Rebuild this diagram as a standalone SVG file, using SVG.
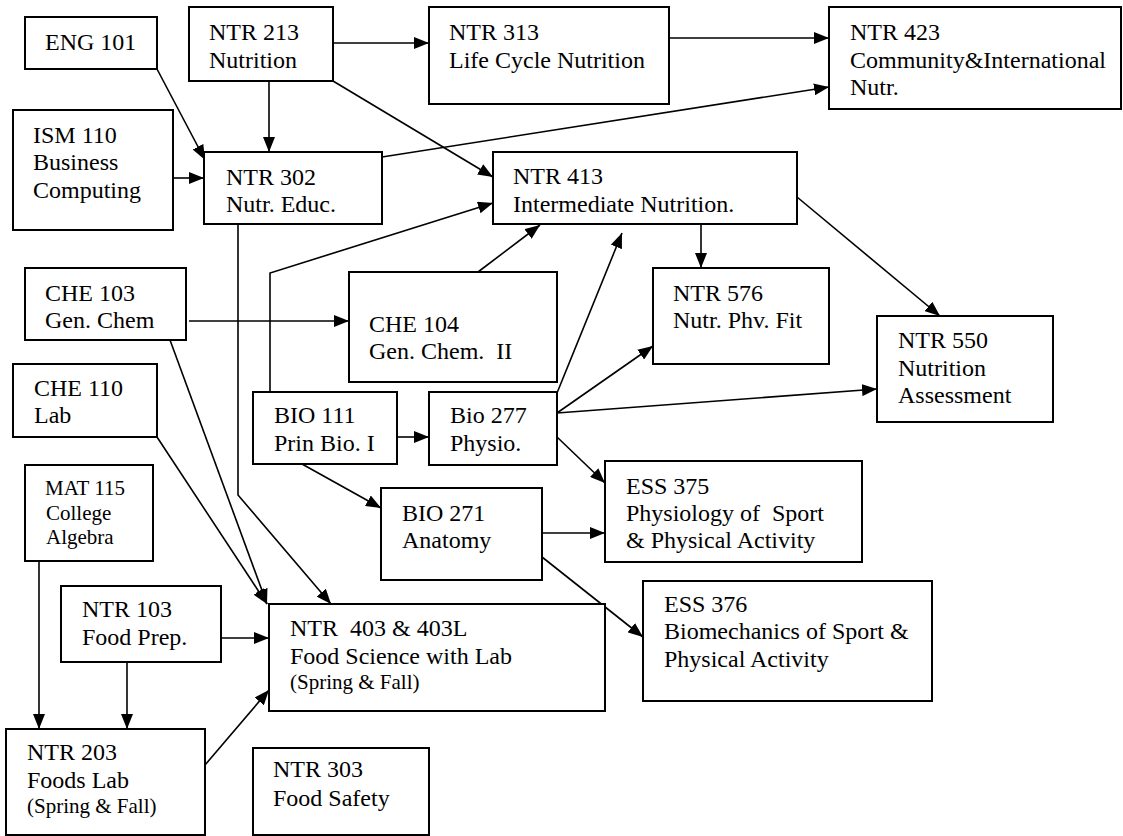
<svg xmlns="http://www.w3.org/2000/svg" width="1123" height="836" viewBox="0 0 1123 836">
<defs>
<marker id="ah" markerUnits="userSpaceOnUse" markerWidth="15" markerHeight="12" viewBox="0 0 15 12" refX="15" refY="6" orient="auto">
<path d="M0,0 L15,6 L0,12 z" fill="#000"/>
</marker>
<style>
.box{fill:#fff;stroke:#000;stroke-width:2}
.t{font-family:"Liberation Serif","Times New Roman",serif;font-size:24px;fill:#000}
.s{font-size:21px}
.c line,.c polyline{stroke:#000;stroke-width:1.6;fill:none;marker-end:url(#ah)}
</style>
</defs>
<rect width="1123" height="836" fill="#fff"/>

<g class="c" id="connectors">
<line x1="157" y1="69" x2="205" y2="160"/>
<line x1="269" y1="81" x2="269" y2="152"/>
<line x1="173" y1="178" x2="204" y2="178"/>
<line x1="333" y1="43" x2="429" y2="43"/>
<line x1="333" y1="81" x2="493" y2="177"/>
<line x1="669" y1="38" x2="829" y2="38"/>
<line x1="382" y1="157" x2="829" y2="87"/>
<polyline points="270,393 270,273 493,203"/>
<line x1="478" y1="272" x2="540" y2="225"/>
<line x1="557" y1="393" x2="622" y2="233"/>
<line x1="701" y1="221" x2="701" y2="268"/>
<line x1="797" y1="197" x2="940" y2="316"/>
<line x1="189" y1="321" x2="349" y2="321"/>
<line x1="557" y1="413" x2="653" y2="346"/>
<line x1="557" y1="413" x2="877" y2="389"/>
<line x1="557" y1="437" x2="605" y2="483"/>
<line x1="397" y1="437" x2="429" y2="437"/>
<line x1="302" y1="464" x2="381" y2="508"/>
<line x1="542" y1="533" x2="605" y2="533"/>
<line x1="542" y1="557" x2="643" y2="637"/>
<line x1="170" y1="340" x2="267" y2="604"/>
<line x1="157" y1="437" x2="267" y2="604"/>
<polyline points="238,224 238,495 331,604"/>
<line x1="221" y1="638" x2="269" y2="638"/>
<line x1="127" y1="662" x2="127" y2="729"/>
<line x1="39" y1="561" x2="39" y2="729"/>
<line x1="205" y1="765" x2="269" y2="690"/>
</g>

<g id="eng101"><rect class="box" x="25" y="17" width="132" height="52"/><text class="t" x="45" y="50">ENG 101</text></g>
<g id="ntr213"><rect class="box" x="189" y="7" width="144" height="74"/><text class="t" x="209" y="40">NTR 213</text><text class="t" x="209" y="68">Nutrition</text></g>
<g id="ntr313"><rect class="box" x="429" y="7" width="240" height="97"/><text class="t" x="449" y="40">NTR 313</text><text class="t" x="449" y="68">Life Cycle Nutrition</text></g>
<g id="ntr423"><rect class="box" x="829" y="7" width="292" height="102"/><text class="t" x="850" y="40">NTR 423</text><text class="t" x="850" y="68">Community&amp;International</text><text class="t" x="850" y="95">Nutr.</text></g>
<g id="ism110"><rect class="box" x="13" y="110" width="160" height="120"/><text class="t" x="33" y="143">ISM 110</text><text class="t" x="33" y="170">Business</text><text class="t" x="33" y="198">Computing</text></g>
<g id="ntr302"><rect class="box" x="204" y="152" width="178" height="72"/><text class="t" x="226" y="185">NTR 302</text><text class="t" x="226" y="212">Nutr. Educ.</text></g>
<g id="ntr413"><rect class="box" x="493" y="152" width="304" height="72"/><text class="t" x="513" y="184">NTR 413</text><text class="t" x="513" y="212">Intermediate Nutrition.</text></g>
<g id="che103"><rect class="box" x="25" y="268" width="161" height="72"/><text class="t" x="45" y="301">CHE 103</text><text class="t" x="45" y="328">Gen. Chem</text></g>
<g id="che104"><rect class="box" x="349" y="272" width="208" height="110"/><text class="t" x="369" y="332">CHE 104</text><text class="t" x="369" y="359">Gen. Chem.&#160; II</text></g>
<g id="ntr576"><rect class="box" x="653" y="268" width="176" height="96"/><text class="t" x="673" y="301">NTR 576</text><text class="t" x="673" y="328">Nutr. Phv. Fit</text></g>
<g id="ntr550"><rect class="box" x="877" y="316" width="176" height="106"/><text class="t" x="898" y="348">NTR 550</text><text class="t" x="898" y="376">Nutrition</text><text class="t" x="898" y="403">Assessment</text></g>
<g id="che110"><rect class="box" x="13" y="364" width="144" height="73"/><text class="t" x="34" y="396">CHE 110</text><text class="t" x="34" y="423">Lab</text></g>
<g id="bio111"><rect class="box" x="253" y="392" width="144" height="72"/><text class="t" x="274" y="423">BIO 111</text><text class="t" x="274" y="451">Prin Bio. I</text></g>
<g id="bio277"><rect class="box" x="429" y="392" width="128" height="73"/><text class="t" x="450" y="423">Bio 277</text><text class="t" x="450" y="451">Physio.</text></g>
<g id="mat115"><rect class="box" x="25" y="465" width="128" height="96"/><text class="t s" x="45" y="495">MAT 115</text><text class="t s" x="46" y="520">College</text><text class="t s" x="46" y="544">Algebra</text></g>
<g id="bio271"><rect class="box" x="381" y="488" width="161" height="92"/><text class="t" x="402" y="521">BIO 271</text><text class="t" x="402" y="548">Anatomy</text></g>
<g id="ess375"><rect class="box" x="605" y="461" width="257" height="101"/><text class="t" x="626" y="494">ESS 375</text><text class="t" x="626" y="521" xml:space="preserve">Physiology of  Sport</text><text class="t" x="626" y="548">&amp; Physical Activity</text></g>
<g id="ess376"><rect class="box" x="643" y="581" width="289" height="120"/><text class="t" x="664" y="612">ESS 376</text><text class="t" x="664" y="639">Biomechanics of Sport &amp;</text><text class="t" x="664" y="667">Physical Activity</text></g>
<g id="ntr103"><rect class="box" x="61" y="586" width="160" height="76"/><text class="t" x="82" y="617">NTR 103</text><text class="t" x="82" y="645">Food Prep.</text></g>
<g id="ntr403"><rect class="box" x="269" y="604" width="336" height="107"/><text class="t" x="290" y="636" xml:space="preserve">NTR  403 &amp; 403L</text><text class="t" x="290" y="664">Food Science with Lab</text><text class="t s" x="290" y="689">(Spring &amp; Fall)</text></g>
<g id="ntr203"><rect class="box" x="6" y="729" width="199" height="106"/><text class="t" x="27" y="760">NTR 203</text><text class="t" x="27" y="788">Foods Lab</text><text class="t s" x="27" y="813">(Spring &amp; Fall)</text></g>
<g id="ntr303"><rect class="box" x="253" y="748" width="176" height="87"/><text class="t" x="273" y="777">NTR 303</text><text class="t" x="273" y="806">Food Safety</text></g>
</svg>
